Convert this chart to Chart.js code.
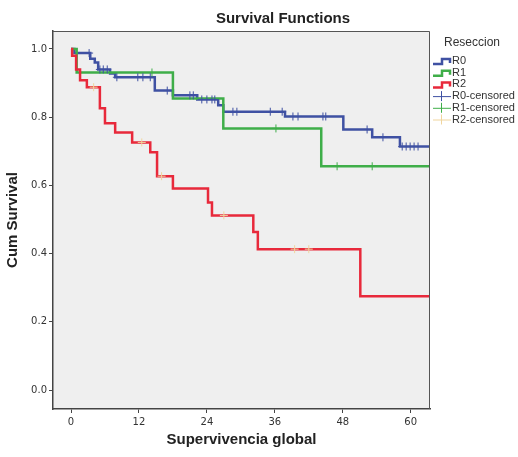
<!DOCTYPE html>
<html>
<head>
<meta charset="utf-8">
<script src="https://cdn.jsdelivr.net/npm/chart.js@4.4.0/dist/chart.umd.min.js"></script>
<style>
  html, body { margin: 0; padding: 0; background: #fff; }
</style>
</head>
<body>
<canvas id="km" width="518" height="457"></canvas>
<script>
// Kaplan-Meier curves by resection group (months of follow-up)
const groups = ["R0", "R1", "R2"]
const lineColors = ["#3f51a3", "#3fae49", "#e8293b"]
const censorColors = ["#3f51a3", "#3fae49", "#f0d59e"]

const r0Times = [0, 0.6, 3.4, 4.2, 4.8, 6.9, 7.8, 14.8, 18.0, 22.3, 26.0, 26.9, 37.8, 48.1, 53.2, 58.1, 63.4]
const r0Surv = [1.0, 0.988, 0.971, 0.96, 0.94, 0.928, 0.917, 0.878, 0.864, 0.852, 0.835, 0.816, 0.802, 0.764, 0.741, 0.714, 0.714]
const r0Censored = [3.2, 5.1, 5.7, 6.4, 8.1, 11.8, 12.7, 14.0, 17.0, 21.0, 21.6, 23.1, 24.0, 24.9, 25.4, 28.6, 29.3, 35.2, 37.3, 39.2, 40.1, 44.5, 45.0, 52.3, 55.1, 58.5, 59.2, 59.9, 60.6, 61.3]

const r1Times = [0, 1.0, 18.0, 26.9, 44.2, 63.4]
const r1Surv = [1.0, 0.931, 0.855, 0.767, 0.656, 0.656]
const r1Censored = [14.3, 36.2, 47.0, 53.2]

const r2Times = [0, 0.2, 0.9, 1.6, 2.8, 5.1, 6.0, 7.8, 10.8, 14.0, 15.2, 18.0, 24.2, 24.9, 32.2, 33.0, 51.1, 63.4]
const r2Surv = [1.0, 0.98, 0.94, 0.908, 0.888, 0.826, 0.782, 0.755, 0.726, 0.697, 0.627, 0.591, 0.55, 0.512, 0.463, 0.413, 0.275, 0.275]
const r2Censored = [4.0, 12.5, 16.0, 27.0, 39.5, 42.0]

const xTicks = [0, 12, 24, 36, 48, 60]
const yTicks = [0, 0.2, 0.4, 0.6, 0.8, 1.0]

const curves = [
  { times: r0Times, surv: r0Surv, censored: r0Censored },
  { times: r1Times, surv: r1Surv, censored: r1Censored },
  { times: r2Times, surv: r2Surv, censored: r2Censored },
]

// value of the step function just at time t
function survivalAt(times, surv, t) {
  let s = surv[0]
  for (let i = 0; i < times.length; i++) {
    if (times[i] <= t) s = surv[i]
  }
  return s
}

const datasets = []
curves.forEach((c, i) => {
  datasets.push({
    label: groups[i],
    kind: "step",
    data: c.times.map((t, j) => ({ x: t, y: c.surv[j] })),
    // horizontal to the event time, then drop
    stepped: "before",
    borderColor: lineColors[i],
    borderWidth: 2.5,
    pointRadius: 0,
    fill: false,
    order: 10 - i,
  })
})
curves.forEach((c, i) => {
  datasets.push({
    label: groups[i] + "-censored",
    kind: "cross",
    data: c.censored.map(t => ({ x: t, y: survivalAt(c.times, c.surv, t) })),
    showLine: false,
    pointStyle: "cross",
    pointRadius: 4,
    pointBorderWidth: 1,
    borderColor: censorColors[i],
    backgroundColor: censorColors[i],
    order: 3 - i,
  })
})

const plotFrame = {
  id: "plotFrame",
  beforeDraw(chart) {
    const { ctx, chartArea: a } = chart
    ctx.save()
    ctx.fillStyle = "#efefef"
    ctx.fillRect(a.left, a.top, a.right - a.left, a.bottom - a.top)
    ctx.restore()
  },
  afterDatasetsDraw(chart) {
    const { ctx, chartArea: a } = chart
    ctx.save()
    ctx.strokeStyle = "#555"
    ctx.lineWidth = 1
    ctx.beginPath()
    ctx.moveTo(a.left, a.top + 0.5)
    ctx.lineTo(a.right - 0.5, a.top + 0.5)
    ctx.lineTo(a.right - 0.5, a.bottom)
    ctx.stroke()
    ctx.restore()
  },
}

const titleAndLegend = {
  id: "titleAndLegend",
  afterDraw(chart) {
    const ctx = chart.ctx
    ctx.save()
    ctx.fillStyle = "#222"
    ctx.font = "bold 15px 'Liberation Sans', Arial, sans-serif"
    ctx.textAlign = "center"
    ctx.textBaseline = "middle"
    ctx.fillText("Survival Functions", 283, 19)

    ctx.font = "12px 'Liberation Sans', Arial, sans-serif"
    ctx.fillStyle = "#333"
    ctx.textAlign = "left"
    ctx.fillText("Reseccion", 444, 43)

    ctx.font = "11px 'Liberation Sans', Arial, sans-serif"
    let y = 61
    chart.data.datasets.forEach(ds => {
      ctx.strokeStyle = ds.borderColor
      if (ds.kind === "step") {
        ctx.lineWidth = 2.5
        ctx.beginPath()
        ctx.moveTo(433, y + 3)
        ctx.lineTo(442, y + 3)
        ctx.lineTo(442, y - 2)
        ctx.lineTo(450, y - 2)
        ctx.lineTo(450, y + 2)
        ctx.stroke()
      } else {
        ctx.lineWidth = 1
        ctx.beginPath()
        ctx.moveTo(433, y + 0.5)
        ctx.lineTo(451, y + 0.5)
        ctx.moveTo(441.5, y - 5)
        ctx.lineTo(441.5, y + 5)
        ctx.stroke()
      }
      ctx.fillStyle = "#333"
      ctx.fillText(ds.label, 452, y)
      y += 11.7
    })
    ctx.restore()
  },
}

const tickFont = { family: "'DejaVu Sans', sans-serif", size: 10 }
const axisTitleFont = { family: "'Liberation Sans', Arial, sans-serif", size: 15, weight: "bold" }

new Chart(document.getElementById("km").getContext("2d"), {
  type: "line",
  data: { datasets },
  options: {
    responsive: false,
    animation: false,
    layout: { padding: { top: 31, right: 88, left: 0, bottom: 0 } },
    plugins: { legend: { display: false }, tooltip: { enabled: false } },
    scales: {
      x: {
        type: "linear",
        min: -3.18,
        max: 63.41,
        afterBuildTicks: s => { s.ticks = xTicks.map(v => ({ value: v })) },
        afterFit: s => { s.height = 48 },
        ticks: { color: "#333", font: tickFont, padding: 3, autoSkip: false, maxRotation: 0 },
        grid: { drawOnChartArea: false, tickLength: 4, color: "#444" },
        border: { color: "#444", width: 1.5 },
        title: { display: true, text: "Supervivencia global", color: "#222", font: axisTitleFont, padding: { top: 0, bottom: 8 } },
      },
      y: {
        type: "linear",
        min: -0.0557,
        max: 1.0527,
        afterBuildTicks: s => { s.ticks = yTicks.map(v => ({ value: v })) },
        afterFit: s => { s.width = 53 },
        ticks: { color: "#333", font: tickFont, padding: 2, callback: v => v.toFixed(1) },
        grid: { drawOnChartArea: false, tickLength: 4, color: "#444" },
        border: { color: "#444", width: 1.5 },
        title: { display: true, text: "Cum Survival", color: "#222", font: axisTitleFont, padding: { top: 4, bottom: 0 } },
      },
    },
  },
  plugins: [plotFrame, titleAndLegend],
})
</script>
</body>
</html>
